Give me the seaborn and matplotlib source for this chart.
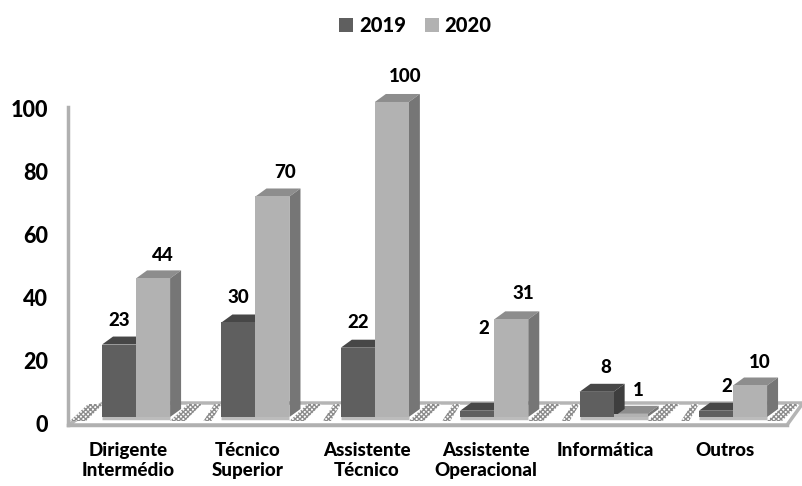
import matplotlib
matplotlib.use("Agg")
import matplotlib.pyplot as plt
import pandas as pd
import seaborn as sns
from matplotlib.patches import Polygon
from matplotlib.transforms import ScaledTranslation

cargos = ["Dirigente\nIntermédio", "Técnico\nSuperior", "Assistente\nTécnico",
          "Assistente\nOperacional", "Informática", "Outros"]
v2019 = [23, 30, 22, 2, 8, 2]
v2020 = [44, 70, 100, 31, 1, 10]
anos = ["2019", "2020"]
yticks = [0, 20, 40, 60, 80, 100]

# label nudges in pixels (x, y above the bar), same order as the bars
nudge2019 = [(0, 24), (0, 25), (0, 25), (7, 82), (9, 24), (11, 24)]
nudge2020 = [(10, 23), (13, 24), (13, 25), (12, 26), (8, 23), (10, 23)]

df = pd.DataFrame({
    "cargo": cargos * 2,
    "n": v2019 + v2020,
    "ano": [anos[0]] * 6 + [anos[1]] * 6,
})

sns.set_theme(style="white")
plt.rcParams["font.family"] = ["Lato", "DejaVu Sans"]
plt.rcParams["font.weight"] = 900
plt.rcParams["text.color"] = "#000000"
plt.rcParams["xtick.color"] = "#000000"
plt.rcParams["ytick.color"] = "#000000"

fig = plt.figure(figsize=(8.03, 4.86), dpi=100)
W, H = 803, 486
ax = fig.add_axes([68 / W, 1 - 425 / H, (787 - 68) / W, (425 - 96) / H])

front = {"2019": "#5f5f5f", "2020": "#b2b2b2"}
top_c = {"2019": "#474747", "2020": "#8d8d8d"}
side_c = {"2019": "#3e3e3e", "2020": "#767676"}

sns.barplot(data=df, x="cargo", y="n", hue="ano", palette=front, width=0.57,
            saturation=1, ax=ax, zorder=5, edgecolor="none")

ax.set_xlim(-0.57, 5.452)
ax.set_ylim(-2.54, 101.9)
ax.set_xlabel("")
ax.set_ylabel("")
ax.set_yticks(yticks)
ax.patch.set_alpha(0)

# one pixel in data units
px = 1 / 119.4
py = 1 / 3.15
dx, dy = 11 * px, 8 * py

# floor
floor_back = 14 * py
floor_front = -2.54
x0, x1 = ax.get_xlim()
ax.add_patch(Polygon([(x0, floor_front), (x1, floor_front),
                      (x1 + 16 * px, floor_back), (x0 + 35 * px, floor_back)],
                     closed=True, fc="white", ec="#b5b5b5", lw=2.5, zorder=0, clip_on=False))

# dotted floor strips either side of each group, and the base line under it
for i in range(len(cargos)):
    if i == 0:
        left = [(-66, -4), (-50, -4), (-33, 13), (-48, 13)]
    else:
        left = [(-52, -4), (-44, -4), (-34, 13), (-41, 13)]
    right = [(34, -4), (49, -4), (66, 13), (52, 13)]
    for s in [left, right]:
        pts = [(i + a * px, b * py) for a, b in s]
        ax.add_patch(Polygon(pts, closed=True, fc="white", ec="#8c8c8c", lw=0,
                             hatch="xxxxxxx", zorder=1, clip_on=False))
    ax.plot([i - 34 * px, i + 34 * px], [-1 * py, -1 * py], color="#bcbcbc", lw=2.5,
            zorder=1, solid_capstyle="butt")

# 3d faces, 2020 first so the 2019 faces lie over them
for k in [1, 0]:
    ano = anos[k]
    for b in ax.containers[k]:
        xa, w, h = b.get_x(), b.get_width(), b.get_height()
        xb = xa + w
        ax.add_patch(Polygon([(xa, h), (xb, h), (xb + dx, h + dy), (xa + dx, h + dy)],
                             closed=True, fc=top_c[ano], ec="none", zorder=2 + (1 - k),
                             clip_on=False))
        ax.add_patch(Polygon([(xb, 0), (xb + dx, dy), (xb + dx, h + dy), (xb, h)],
                             closed=True, fc=side_c[ano], ec="none", zorder=2 + (1 - k),
                             clip_on=False))

# data labels
for cont, vals, nudge in zip(ax.containers, [v2019, v2020], [nudge2019, nudge2020]):
    for b, v, (nx, ny) in zip(cont, vals, nudge):
        ax.annotate(str(v), (b.get_x() + b.get_width() / 2, v), xytext=(nx, ny),
                    textcoords="offset pixels", ha="center", va="center",
                    fontsize=13.5, fontweight=900, zorder=9, annotation_clip=False)

# walls
sns.despine(ax=ax, top=True, right=True)
for sp in ["left", "bottom"]:
    ax.spines[sp].set_color("#b0b0b0")
    ax.spines[sp].set_linewidth(2.5)
ax.spines["left"].set_bounds(-2.54, 98.4)

ax.tick_params(axis="y", length=0, pad=14.5, labelsize=15.5)
ax.tick_params(axis="x", length=0, pad=12.5, labelsize=13.5)
for lab in ax.get_yticklabels():
    lab.set_transform(lab.get_transform() + ScaledTranslation(0, -7 / 100, fig.dpi_scale_trans))
    lab.set_fontweight(900)
for lab in ax.get_xticklabels():
    lab.set_transform(lab.get_transform() + ScaledTranslation(-8 / 100, 0, fig.dpi_scale_trans))
    lab.set_fontweight(900)
    lab.set_linespacing(1.2)

leg = ax.legend(loc="center", bbox_to_anchor=(415.5 / W, 1 - 26 / H), bbox_transform=fig.transFigure,
                ncol=2, frameon=False, handlelength=0.7, handleheight=0.7, handletextpad=0.3,
                columnspacing=0.9, prop={"weight": 900, "size": 14.5})

fig.savefig("out.png", dpi=100)
